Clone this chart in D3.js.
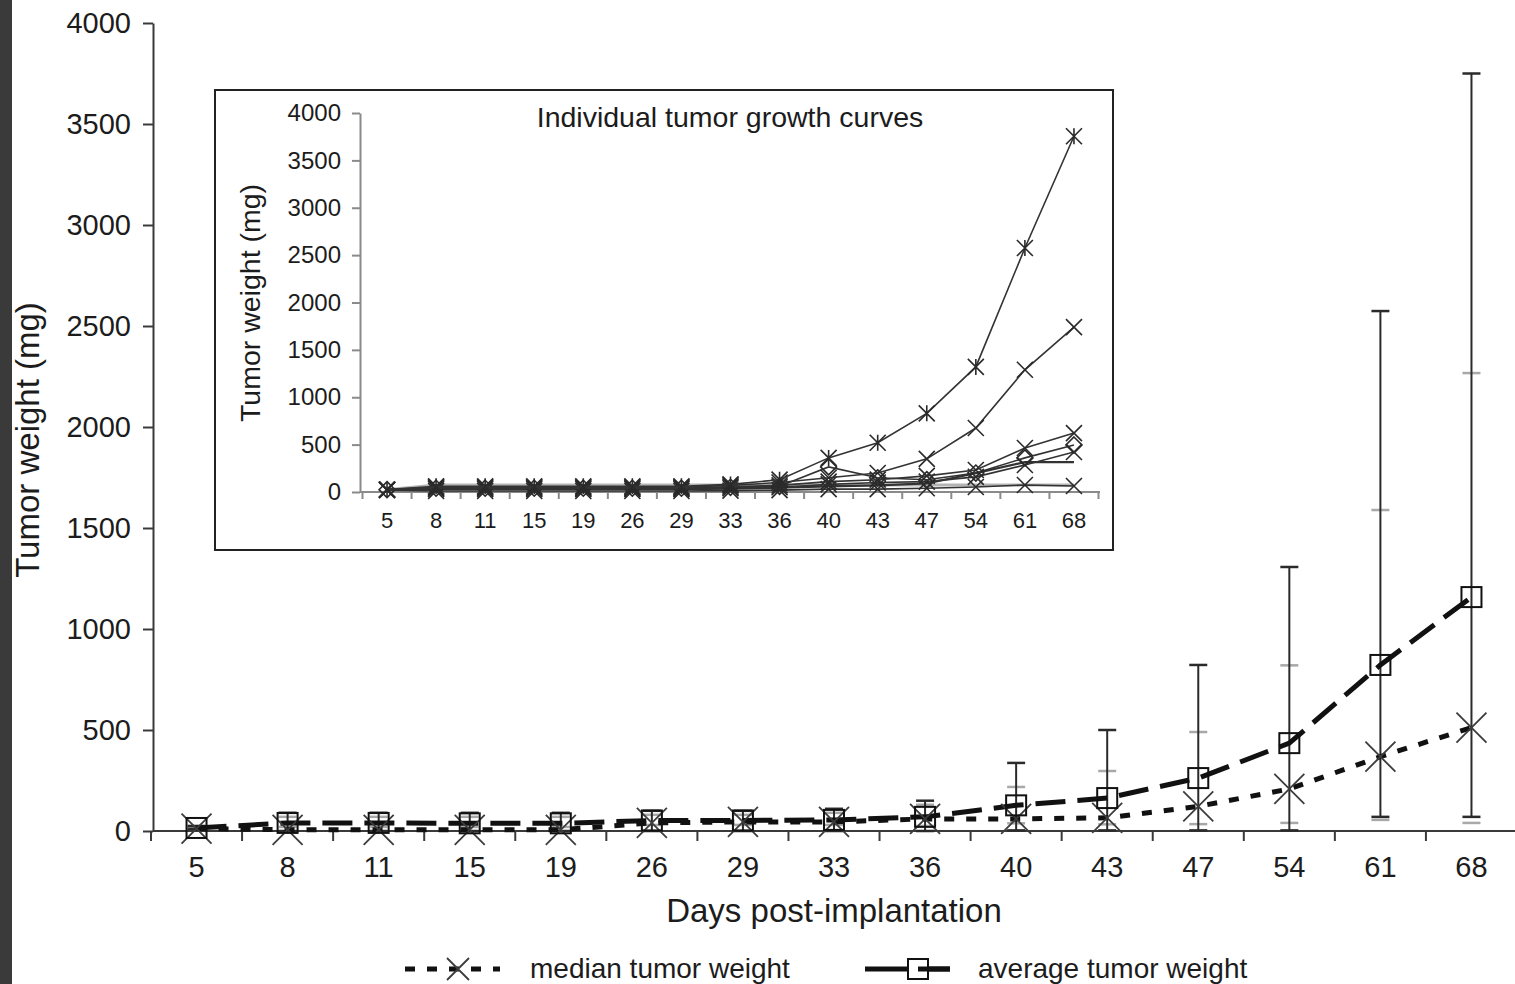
<!DOCTYPE html>
<html>
<head>
<meta charset="utf-8">
<title>Tumor growth</title>
<style>
  body { margin: 0; background: #fff; font-family: Arial, "Liberation Sans", Helvetica, sans-serif; }
  svg text { fill: #1c1c1c; }
  .axis path, .axis line { stroke: #3a3a3a; stroke-width: 2; }
  .inset .axis path, .inset .axis line { stroke: #8a8a8a; stroke-width: 2; }
</style>
</head>
<body>
<svg id="chart" width="1515" height="984"></svg>
<script src="https://cdn.jsdelivr.net/npm/d3@7"></script>
<script>
// days post-implantation
var days = ["5", "8", "11", "15", "19", "26", "29", "33", "36", "40", "43", "47", "54", "61", "68"];
var yTicks = [0, 500, 1000, 1500, 2000, 2500, 3000, 3500, 4000];

// main chart series (mg)
var averageWeight = [15, 40, 40, 38, 38, 52, 52, 55, 70, 127, 163, 262, 435, 822, 1158];
var medianWeight  = [12, 6, 6, 6, 6, 40, 45, 45, 60, 60, 65, 122, 208, 368, 512];
// black bars: min / max of the group
var rangeLow  = [10, 0, 0, 0, 0, 0, 0, 0, 0, 3, 3, 3, 3, 70, 70];
var rangeHigh = [25, 90, 90, 90, 90, 100, 100, 110, 150, 337, 500, 822, 1307, 2574, 3750];
// grey bars
var sdLow  = [12, 20, 20, 20, 20, 30, 30, 30, 25, 38, 33, 34, 40, 55, 40];
var sdHigh = [20, 70, 70, 70, 70, 80, 80, 90, 130, 218, 297, 490, 820, 1589, 2267];

// inset: individual tumours
var tumorA = [25, 60, 60, 60, 60, 60, 60, 80, 130, 360, 520, 830, 1320, 2575, 3755];
var tumorB = [25, 50, 50, 50, 50, 50, 50, 70, 100, 150, 200, 350, 675, 1290, 1740];
var tumorC = [25, 40, 40, 40, 40, 40, 40, 55, 70, 110, 130, 170, 232, 464, 622];
var tumorD = [25, 40, 40, 40, 40, 40, 40, 50, 60, 265, 150, 130, 200, 360, 496];
var tumorE = [25, 30, 30, 30, 30, 30, 30, 40, 50, 80, 100, 110, 160, 285, 422];
var tumorF = [25, 30, 30, 30, 30, 30, 30, 35, 45, 60, 70, 90, 200, 316, 316];
var tumorG = [20, 10, 10, 10, 10, 10, 10, 15, 20, 30, 30, 40, 53, 74, 63];
var tumorH = [25, 75, 75, 75, 75, 75, 75, 75, 75, 75, 75, 75, 75, 75, 75];

var svg = d3.select("#chart");
var plain = d3.format("d");

// dark strip on the left edge of the scan
svg.append("rect").attr("x", 0).attr("y", 0).attr("width", 12).attr("height", 984).attr("fill", "#3a3a3a");

function xPath(s) {
  return "M" + (-s) + "," + (-s) + "L" + s + "," + s + "M" + (-s) + "," + s + "L" + s + "," + (-s);
}
function starPath(s) {
  return xPath(s) + "M0," + (-s) + "L0," + s;
}
function diamondPath(s) {
  return "M0," + (-s) + "L" + s + ",0L0," + s + "L" + (-s) + ",0Z";
}

// ---------- main chart ----------
var x = d3.scaleBand().domain(days).range([151, 1517]).padding(0);
var y = d3.scaleLinear().domain([0, 4000]).range([831, 23]);
var cx = function(d) { return x(d) + x.bandwidth() / 2; };

var yAxis = svg.append("g").attr("class", "axis").attr("transform", "translate(153,0)")
  .call(d3.axisLeft(y).tickValues(yTicks).tickFormat(plain).tickSize(10).tickSizeOuter(0).tickPadding(12));
yAxis.selectAll("text").style("font-size", "29px");

var xAxis = svg.append("g").attr("class", "axis").attr("transform", "translate(0," + y(0) + ")")
  .call(d3.axisBottom(x).tickSize(0).tickSizeOuter(0).tickPadding(25));
xAxis.select(".domain").attr("d", "M153,0H1515");
xAxis.selectAll("text").style("font-size", "29px");
xAxis.selectAll(".boundary").data(days.concat([null])).enter().append("line")
  .attr("class", "boundary")
  .attr("x1", function(d) { return d === null ? x.range()[1] : x(d); })
  .attr("x2", function(d) { return d === null ? x.range()[1] : x(d); })
  .attr("y1", 0).attr("y2", 10);

svg.append("text").attr("x", 834).attr("y", 922).attr("text-anchor", "middle")
  .style("font-size", "33px").text("Days post-implantation");
svg.append("text").attr("transform", "translate(39,440) rotate(-90)").attr("text-anchor", "middle")
  .style("font-size", "33px").text("Tumor weight (mg)");

// grey bars
var capW = 9;
var bars = svg.append("g");
days.forEach(function(d, i) {
  [sdLow[i], sdHigh[i]].forEach(function(v) {
    bars.append("line").attr("x1", cx(d) - capW).attr("x2", cx(d) + capW)
      .attr("y1", y(v)).attr("y2", y(v)).attr("stroke", "#a8a8a8").attr("stroke-width", 2.5);
  });
});
// black bars
days.forEach(function(d, i) {
  bars.append("line").attr("x1", cx(d)).attr("x2", cx(d))
    .attr("y1", y(rangeLow[i])).attr("y2", y(rangeHigh[i])).attr("stroke", "#2a2a2a").attr("stroke-width", 2);
  [rangeLow[i], rangeHigh[i]].forEach(function(v) {
    bars.append("line").attr("x1", cx(d) - capW).attr("x2", cx(d) + capW)
      .attr("y1", y(v)).attr("y2", y(v)).attr("stroke", "#2a2a2a").attr("stroke-width", 2.5);
  });
});

var line = d3.line().x(function(d, i) { return cx(days[i]); }).y(function(d) { return y(d); });

svg.append("path").datum(medianWeight).attr("d", line).attr("fill", "none")
  .attr("stroke", "#111").attr("stroke-width", 5).attr("stroke-dasharray", "10,12");
svg.append("path").datum(averageWeight).attr("d", line).attr("fill", "none")
  .attr("stroke", "#111").attr("stroke-width", 5).attr("stroke-dasharray", "30,12");

svg.append("g").selectAll("path").data(medianWeight).enter().append("path")
  .attr("transform", function(d, i) { return "translate(" + cx(days[i]) + "," + y(d) + ")"; })
  .attr("d", xPath(15)).attr("fill", "none").attr("stroke", "#3c3c3c").attr("stroke-width", 1.8);
svg.append("g").selectAll("rect").data(averageWeight).enter().append("rect")
  .attr("x", function(d, i) { return cx(days[i]) - 10; })
  .attr("y", function(d) { return y(d) - 10; })
  .attr("width", 20).attr("height", 20)
  .attr("fill", "none").attr("stroke", "#111").attr("stroke-width", 2);

// legend
var lg = svg.append("g");
lg.append("line").attr("x1", 405).attr("x2", 500).attr("y1", 969).attr("y2", 969)
  .attr("stroke", "#111").attr("stroke-width", 5).attr("stroke-dasharray", "10,12");
lg.append("path").attr("transform", "translate(458,969)").attr("d", xPath(11))
  .attr("fill", "none").attr("stroke", "#3c3c3c").attr("stroke-width", 1.8);
lg.append("text").attr("x", 530).attr("y", 978).style("font-size", "28px").text("median tumor weight");
lg.append("line").attr("x1", 865).attr("x2", 950).attr("y1", 969).attr("y2", 969)
  .attr("stroke", "#111").attr("stroke-width", 5);
lg.append("rect").attr("x", 908).attr("y", 959).attr("width", 20).attr("height", 20)
  .attr("fill", "#fff").attr("stroke", "#111").attr("stroke-width", 2);
lg.append("line").attr("x1", 918).attr("x2", 950).attr("y1", 969).attr("y2", 969)
  .attr("stroke", "#111").attr("stroke-width", 5);
lg.append("text").attr("x", 978).attr("y", 978).style("font-size", "28px").text("average tumor weight");

// ---------- inset ----------
var inset = svg.append("g").attr("class", "inset");
inset.append("rect").attr("x", 215).attr("y", 90).attr("width", 898).attr("height", 460)
  .attr("fill", "#fff").attr("stroke", "#222").attr("stroke-width", 2);

var xi = d3.scaleBand().domain(days).range([362.5, 1098.5]).padding(0);
var yi = d3.scaleLinear().domain([0, 4000]).range([492, 113]);
var cxi = function(d) { return xi(d) + xi.bandwidth() / 2; };

var yiAxis = inset.append("g").attr("class", "axis").attr("transform", "translate(360,0)")
  .call(d3.axisLeft(yi).tickValues(yTicks).tickFormat(plain).tickSize(8).tickSizeOuter(0).tickPadding(11));
yiAxis.selectAll("text").style("font-size", "24px");

var xiAxis = inset.append("g").attr("class", "axis").attr("transform", "translate(0," + yi(0) + ")")
  .call(d3.axisBottom(xi).tickSize(0).tickSizeOuter(0).tickPadding(20));
xiAxis.select(".domain").attr("d", "M360,0H1100");
xiAxis.selectAll("text").style("font-size", "22px");
xiAxis.selectAll(".boundary").data(days.concat([null])).enter().append("line")
  .attr("class", "boundary")
  .attr("x1", function(d) { return d === null ? xi.range()[1] : xi(d); })
  .attr("x2", function(d) { return d === null ? xi.range()[1] : xi(d); })
  .attr("y1", 0).attr("y2", 7);

inset.append("text").attr("x", 730).attr("y", 127).attr("text-anchor", "middle")
  .style("font-size", "28.5px").text("Individual tumor growth curves");
inset.append("text").attr("transform", "translate(260,303) rotate(-90)").attr("text-anchor", "middle")
  .style("font-size", "28.5px").text("Tumor weight (mg)");

var li = d3.line().x(function(d, i) { return cxi(days[i]); }).y(function(d) { return yi(d); });

var curves = [
  { values: tumorH, marker: null, color: "#b4b4b4", width: 3 },
  { values: tumorG, marker: xPath, color: "#333", width: 1.6 },
  { values: tumorF, marker: null, color: "#333", width: 2.2 },
  { values: tumorE, marker: xPath, color: "#333", width: 1.6 },
  { values: tumorD, marker: diamondPath, color: "#333", width: 1.6 },
  { values: tumorC, marker: xPath, color: "#333", width: 1.6 },
  { values: tumorB, marker: xPath, color: "#333", width: 1.6 },
  { values: tumorA, marker: starPath, color: "#333", width: 1.6 }
];
curves.forEach(function(c) {
  inset.append("path").datum(c.values).attr("d", li).attr("fill", "none")
    .attr("stroke", c.color).attr("stroke-width", c.width);
  if (c.marker) {
    inset.append("g").selectAll("path").data(c.values).enter().append("path")
      .attr("transform", function(d, i) { return "translate(" + cxi(days[i]) + "," + yi(d) + ")"; })
      .attr("d", c.marker(8)).attr("fill", "none").attr("stroke", "#2a2a2a").attr("stroke-width", 1.6);
  }
});
</script>
</body>
</html>
